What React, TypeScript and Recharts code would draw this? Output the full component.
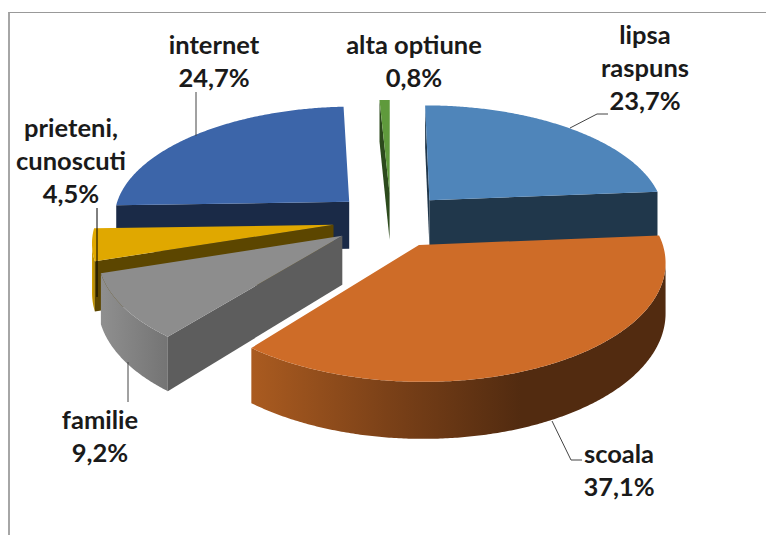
import React from "react";
import { PieChart, Pie } from "recharts";

const names = ["lipsa raspuns", "alta optiune", "internet", "prieteni, cunoscuti", "familie", "scoala"];
const values = [23.7, 0.8, 24.7, 4.5, 9.2, 37.1];
const valueLabels = ["23,7%", "0,8%", "24,7%", "4,5%", "9,2%", "37,1%"];
const topColors = ["#4f85ba", "#5f9a3c", "#3c65a9", "#e0a800", "#8d8d8d", "#ce6c28"];
const sideColors = ["#20374b", "#2c4a1c", "#1a2a47", "#5c4600", "#5d5d5d", "#522b10"];
const rimStops = [
  [["0", "#20374b"], ["1", "#20374b"]],
  [["0", "#3c6426"], ["1", "#2c4a1c"]],
  [["0", "#1a2a47"], ["1", "#1a2a47"]],
  [["0", "#d8a400"], ["1", "#a88000"]],
  [["0", "#8f8f8f"], ["1", "#747474"]],
  [["0", "#aa5b20"], ["0.33", "#7b4118"], ["0.65", "#522b10"], ["1", "#522b10"]],
];
const labelLines = [["lipsa", "raspuns", "23,7%"], ["alta optiune", "0,8%"], ["internet", "24,7%"], ["prieteni,", "cunoscuti", "4,5%"], ["familie", "9,2%"], ["scoala", "37,1%"]];
const labelCenters = [[645, 34], [414, 44], [214, 44], [71, 127], [100, 419], [619, 453]];
const leaders = [
  [[570, 128], [597, 114], [608, 114]],
  [],
  [[196, 92], [196, 136]],
  [[97, 208], [97, 297]],
  [[128, 362], [128, 402]],
  [[552, 421], [571, 460], [582, 460]],
];

const chartData = names.map((name, i) => ({ name, value: values[i], label: valueLabels[i] }));

const EXPLODE = 0.245;
const TILT = 0.4726;
const PERSPECTIVE = 0.13;
const DEPTH = 48;
const LINE_HEIGHT = 33;
const FONT = "Lato, 'Open Sans', sans-serif";

const rad = (d: number) => (d * Math.PI) / 180;

function Slice(props: any) {
  const { cx, cy, outerRadius: R, startAngle, endAngle, index } = props;
  const i = index ?? names.indexOf(props.name);
  const m = rad((startAngle + endAngle) / 2);
  const ox = EXPLODE * Math.cos(m);
  const oy = -EXPLODE * Math.sin(m);
  const project = (X: number, Y: number, z: number): [number, number] => {
    const w = 1 - PERSPECTIVE * Y;
    return [cx + (R * X) / w, cy + (R * TILT * Y + DEPTH * z) / w];
  };
  const rim = (deg: number, z: number) => project(ox + Math.cos(rad(deg)), oy - Math.sin(rad(deg)), z);
  const apex = (z: number) => project(ox, oy, z);
  const facing = (a: number[], b: number[], c: number[], d: number[]) => {
    const pts = [a, b, c, d];
    let s = 0;
    for (let k = 0; k < 4; k++) {
      const p = pts[k];
      const q = pts[(k + 1) % 4];
      s += p[0] * q[1] - q[0] * p[1];
    }
    return s > 0;
  };
  const toPath = (pts: number[][]) => "M" + pts.map((p) => `${p[0].toFixed(2)},${p[1].toFixed(2)}`).join("L") + "Z";

  const steps = Math.max(2, Math.ceil((endAngle - startAngle) * 2));
  const angles = Array.from({ length: steps + 1 }, (_, k) => startAngle + ((endAngle - startAngle) * k) / steps);
  const topPts = [apex(0), ...angles.map((a) => rim(a, 0))];

  const visible: number[] = [];
  for (let k = 0; k < steps; k++) {
    const a = angles[k];
    const b = angles[k + 1];
    if (facing(rim(a, 0), rim(b, 0), rim(b, 1), rim(a, 1))) {
      if (!visible.length || visible[visible.length - 1] !== a) visible.push(a);
      visible.push(b);
    }
  }
  const rimPts = visible.length ? [...visible.map((a) => rim(a, 0)), ...[...visible].reverse().map((a) => rim(a, 1))] : null;

  const startFace = [apex(0), rim(startAngle, 0), rim(startAngle, 1), apex(1)];
  const endFace = [rim(endAngle, 0), apex(0), apex(1), rim(endAngle, 1)];
  const gid = `rim-${i}`;

  return (
    <g>
      <defs>
        <linearGradient id={gid} x1="0" y1="0" x2="1" y2="0">
          {rimStops[i].map((s, k) => (
            <stop key={k} offset={s[0]} stopColor={s[1]} />
          ))}
        </linearGradient>
      </defs>
      {rimPts && <path d={toPath(rimPts)} fill={`url(#${gid})`} />}
      {facing(startFace[0], startFace[1], startFace[2], startFace[3]) && <path d={toPath(startFace)} fill={sideColors[i]} />}
      {facing(endFace[0], endFace[1], endFace[2], endFace[3]) && <path d={toPath(endFace)} fill={sideColors[i]} />}
      <path d={toPath(topPts)} fill={topColors[i]} />
    </g>
  );
}

function SliceLabel(props: any) {
  const i = props.index;
  const [x, y] = labelCenters[i];
  const line = leaders[i];
  return (
    <g>
      {line.length > 0 && (
        <polyline points={line.map((p) => p.join(",")).join(" ")} fill="none" stroke={i === 3 ? "#000000" : "#444444"} strokeWidth={1} />
      )}
      {labelLines[i].map((t, k) => (
        <text
          key={k}
          x={x}
          y={y + k * LINE_HEIGHT}
          textAnchor="middle"
          dominantBaseline="central"
          fontFamily={FONT}
          fontSize={25.5}
          fontWeight={700}
          fill="#1a1a1a"
        >
          {t}
        </text>
      ))}
    </g>
  );
}

export default function App() {
  const startAngle = 90 - (360 * values[0]) / values.reduce((a, b) => a + b, 0);
  return (
    <div style={{ position: "absolute", left: 0, top: 0, width: 766, height: 535, background: "#ffffff", overflow: "hidden" }}>
      <div style={{ position: "absolute", left: 8, top: 12, width: 766, height: 535, borderLeft: "2px solid #a6a6a6", borderTop: "1.5px solid #999999" }} />
      <div style={{ position: "absolute", left: 0, top: 0 }}>
        <PieChart width={766} height={535} margin={{ top: 0, right: 0, bottom: 0, left: 0 }}>
          <Pie
            data={chartData}
            dataKey="value"
            nameKey="name"
            cx={391}
            cy={220}
            innerRadius={0}
            outerRadius={237}
            startAngle={startAngle}
            endAngle={startAngle + 360}
            stroke="none"
            isAnimationActive={false}
            shape={Slice}
            labelLine={false}
            label={SliceLabel}
          />
        </PieChart>
      </div>
    </div>
  );
}
